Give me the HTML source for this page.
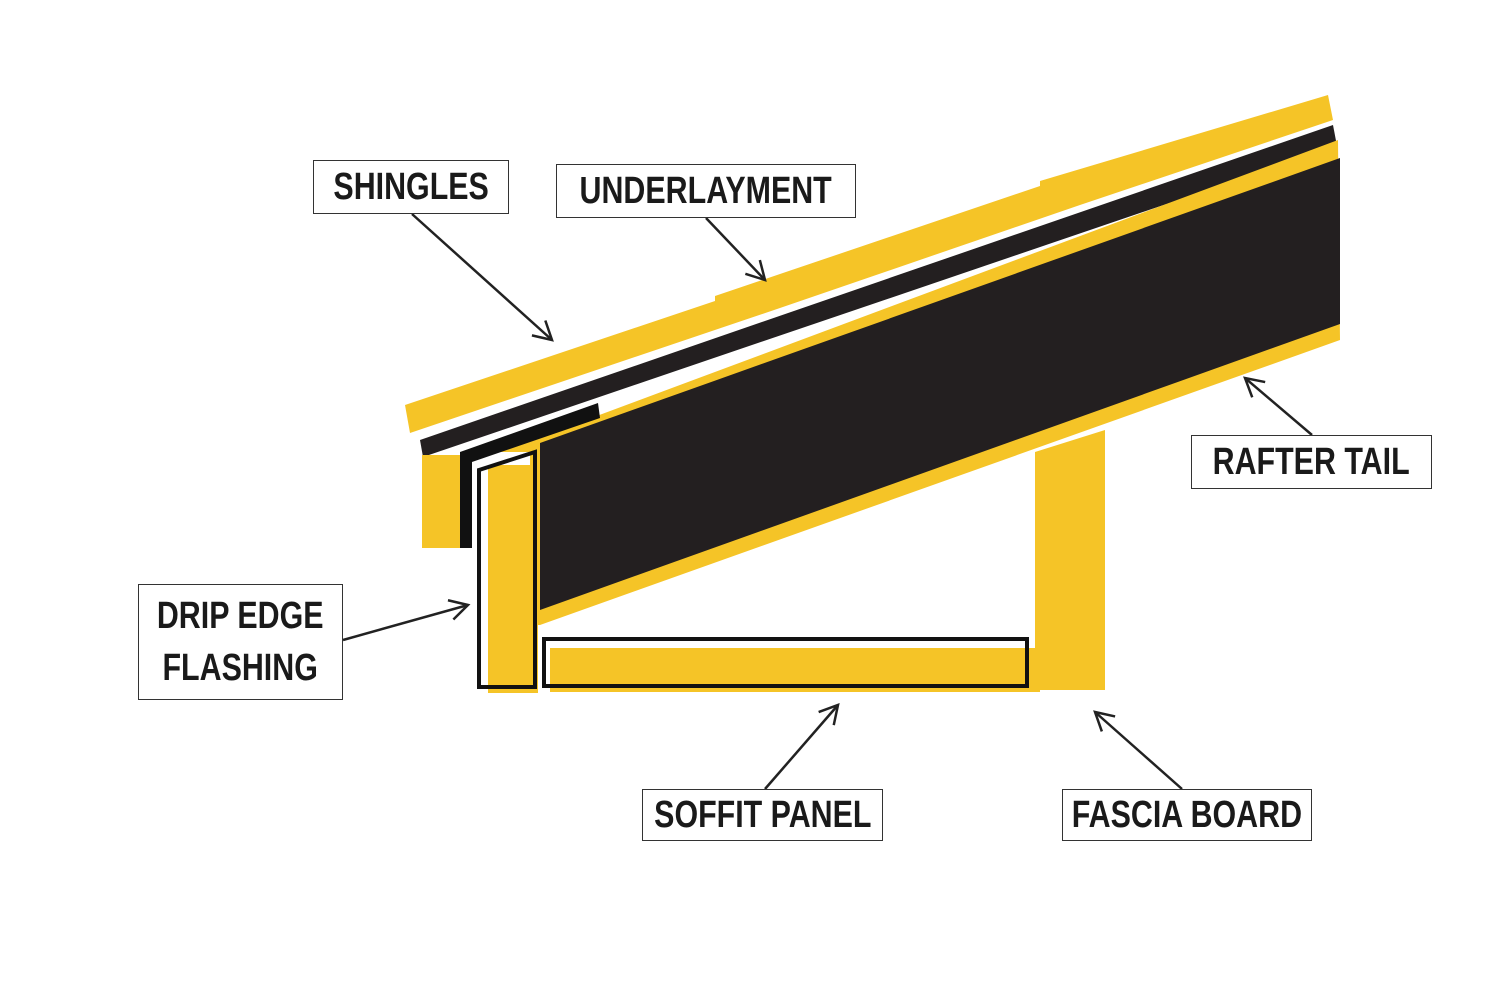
<!DOCTYPE html>
<html><head><style>
body{margin:0;background:#fff;width:1500px;height:1000px;overflow:hidden;position:relative}
.l{position:absolute;border:1.5px solid #333;background:#fff;font-family:"Liberation Sans",sans-serif;font-weight:bold;font-size:38px;color:#1a1a1a;display:flex;align-items:center;justify-content:center;text-align:center;line-height:52px;box-sizing:border-box;white-space:nowrap}
.l span{display:inline-block;transform:scaleX(0.8)}
svg{position:absolute;left:0;top:0}
</style></head><body>
<svg width="1500" height="1000" viewBox="0 0 1500 1000">
<defs><marker id="a" markerWidth="24" markerHeight="24" refX="20" refY="12" orient="auto" markerUnits="userSpaceOnUse"><path d="M2,2 L20,12 L2,22" fill="none" stroke="#222" stroke-width="2.5"/></marker></defs>
<polygon points="405,405 715,301 715,296 780,274 1040,186 1040,181 1328,95 1333,120 1080,205 780,308 410,433" fill="#f5c427"/>
<polygon points="420,440 1333,125 1337,146 423,457" fill="#231f20"/>
<polygon points="500,452 1338,140 1340,340 540,625 530,625 530,452" fill="#f5c427"/>
<polygon points="540,443 1340,158 1340,324 540,610" fill="#231f20"/>
<rect x="422" y="455" width="40" height="93" fill="#f5c427"/>
<polygon points="460,452 598,403 600,418 472,462 472,548 460,548" fill="#111"/>
<rect x="488" y="465" width="50" height="228" fill="#f5c427"/>
<polygon points="479,470 535,452 535,687 479,687" fill="none" stroke="#111" stroke-width="4"/>
<rect x="550" y="648" width="490" height="44" fill="#f5c427"/>
<rect x="544" y="639" width="483" height="47" fill="none" stroke="#111" stroke-width="4"/>
<polygon points="1035,452 1105,430 1105,690 1035,690" fill="#f5c427"/>
<g stroke="#222" stroke-width="2.5" fill="none" marker-end="url(#a)">
<line x1="412" y1="214" x2="552" y2="340"/>
<line x1="706" y1="218" x2="765" y2="280"/>
<line x1="1312" y1="435" x2="1245" y2="378"/>
<line x1="343" y1="640" x2="468" y2="605"/>
<line x1="765" y1="789" x2="838" y2="705"/>
<line x1="1182" y1="789" x2="1095" y2="712"/>
</g>
</svg>
<div class="l" style="left:313px;top:160px;width:196px;height:54px"><span>SHINGLES</span></div>
<div class="l" style="left:556px;top:164px;width:300px;height:54px"><span>UNDERLAYMENT</span></div>
<div class="l" style="left:1191px;top:435px;width:241px;height:54px"><span>RAFTER TAIL</span></div>
<div class="l" style="left:138px;top:584px;width:205px;height:116px"><span>DRIP EDGE<br>FLASHING</span></div>
<div class="l" style="left:642px;top:789px;width:241px;height:52px"><span>SOFFIT PANEL</span></div>
<div class="l" style="left:1062px;top:789px;width:250px;height:52px"><span>FASCIA BOARD</span></div>
</body></html>
